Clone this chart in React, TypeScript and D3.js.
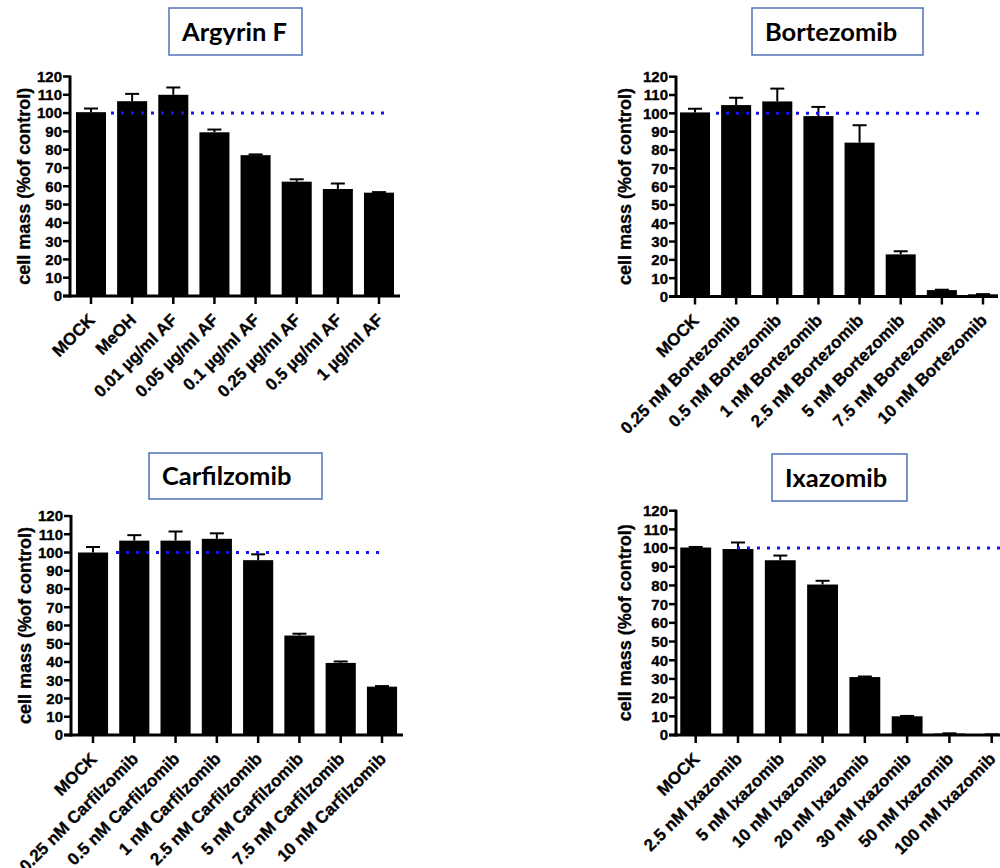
import React from "react";
import * as d3 from "d3";

// ---------- data ----------
const yTicks = [0, 10, 20, 30, 40, 50, 60, 70, 80, 90, 100, 110, 120];
const controlLevel = 100;

const argyrinCategories = ["MOCK", "MeOH", "0.01 µg/ml AF", "0.05 µg/ml AF", "0.1 µg/ml AF", "0.25 µg/ml AF", "0.5 µg/ml AF", "1 µg/ml AF"];
const argyrinValues = [100.5, 106.5, 110, 89.5, 77, 62.5, 58.5, 56.5];
const argyrinErrors = [2, 4, 4, 1.5, 0.4, 1.3, 3, 0.3];

const bortezomibCategories = ["MOCK", "0.25 nM Bortezomib", "0.5 nM Bortezomib", "1 nM Bortezomib", "2.5 nM Bortezomib", "5 nM Bortezomib", "7.5 nM Bortezomib", "10 nM Bortezomib"];
const bortezomibValues = [100.5, 104.5, 106.5, 98.5, 84, 23, 3.5, 1.2];
const bortezomibErrors = [2, 4, 7, 5, 9.5, 1.7, 0.2, 0.1];

const carfilzomibCategories = ["MOCK", "0.25 nM Carfilzomib", "0.5 nM Carfilzomib", "1 nM Carfilzomib", "2.5 nM Carfilzomib", "5 nM Carfilzomib", "7.5 nM Carfilzomib", "10 nM Carfilzomib"];
const carfilzomibValues = [100, 106.5, 106.5, 107.5, 95.8, 54.5, 39.5, 26.5];
const carfilzomibErrors = [3, 3, 5, 3, 3.2, 1, 0.8, 0.3];

const ixazomibCategories = ["MOCK", "2.5 nM Ixazomib", "5 nM Ixazomib", "10 nM Ixazomib", "20 nM Ixazomib", "30 nM Ixazomib", "50 nM Ixazomib", "100 nM Ixazomib"];
const ixazomibValues = [100.3, 99.5, 93.5, 80.5, 31, 10, 0.8, 0.3];
const ixazomibErrors = [0.3, 3.5, 2.5, 2, 0.3, 0.2, 0.1, 0.05];

const yAxisTitle = "cell mass (%of control)";

// ---------- layout ----------
const panels = [
  { title: "Argyrin F", cats: argyrinCategories, vals: argyrinValues, errs: argyrinErrors,
    axisX: 70, y0: 296, y120: 76.5, c0: 91, cN: 379, xEnd: 400, dots: [111, 390],
    box: { x: 169, y: 8, w: 133, h: 47 }, yLabelX: 30 },
  { title: "Bortezomib", cats: bortezomibCategories, vals: bortezomibValues, errs: bortezomibErrors,
    axisX: 676, y0: 296.5, y120: 76.7, c0: 695, cN: 983, xEnd: 998, dots: [716, 984],
    box: { x: 752, y: 8, w: 171, h: 47 }, yLabelX: 631 },
  { title: "Carfilzomib", cats: carfilzomibCategories, vals: carfilzomibValues, errs: carfilzomibErrors,
    axisX: 71, y0: 735, y120: 516, c0: 93, cN: 382, xEnd: 403, dots: [116, 386],
    box: { x: 149, y: 453, w: 173, h: 46 }, yLabelX: 31 },
  { title: "Ixazomib", cats: ixazomibCategories, vals: ixazomibValues, errs: ixazomibErrors,
    axisX: 676, y0: 735, y120: 510.7, c0: 695.7, cN: 991.7, xEnd: 1000, dots: [737, 1000],
    box: { x: 772, y: 454, w: 135, h: 47 }, yLabelX: 631 },
];

const AXIS_FONT = "'Liberation Sans', Arial, sans-serif";

function Panel({ p }: { p: any }) {
  const n = p.cats.length;
  const step = (p.cN - p.c0) / (n - 1);
  const x = d3.scaleBand<string>()
    .domain(p.cats)
    .range([p.c0 - step / 2, p.cN + step / 2])
    .paddingInner(0.27)
    .paddingOuter(0.135);
  const y = d3.scaleLinear().domain([0, 120]).range([p.y0, p.y120]);
  const bw = x.bandwidth();
  const yMid = (p.y0 + p.y120) / 2;

  return (
    <g>
      {/* title box */}
      <rect x={p.box.x} y={p.box.y} width={p.box.w} height={p.box.h} fill="#fff" stroke="#5273b8" strokeWidth={1.5} />
      <text x={p.box.x + 13} y={p.box.y + p.box.h / 2 + 9} fontFamily="Lato, 'Open Sans', sans-serif" fontWeight={700} fontSize={25.5} fill="#000">
        {p.title}
      </text>

      {/* bars */}
      {p.cats.map((c: string, i: number) => (
        <rect key={"b" + i} x={x(c)} y={y(p.vals[i])} width={bw} height={p.y0 - y(p.vals[i])} fill="#000" />
      ))}
      {/* error bars */}
      {p.cats.map((c: string, i: number) => {
        const cx = (x(c) as number) + bw / 2;
        const top = y(p.vals[i] + p.errs[i]);
        return (
          <g key={"e" + i} stroke="#000" strokeWidth={2}>
            <line x1={cx} x2={cx} y1={y(p.vals[i])} y2={top} />
            <line x1={cx - 7} x2={cx + 7} y1={top} y2={top} />
          </g>
        );
      })}

      {/* y axis */}
      <line x1={p.axisX} x2={p.axisX} y1={p.y0 + 1.5} y2={p.y120 - 1} stroke="#000" strokeWidth={3} />
      {yTicks.map((t) => (
        <g key={"yt" + t}>
          <line x1={p.axisX - 7} x2={p.axisX} y1={y(t)} y2={y(t)} stroke="#000" strokeWidth={2.5} />
          <text x={p.axisX - 8} y={y(t)} dy="0.36em" textAnchor="end" fontFamily={AXIS_FONT} fontWeight={700} fontSize={15} fill="#000" stroke="#000" strokeWidth={0.35}>
            {t}
          </text>
        </g>
      ))}
      <text transform={`translate(${p.yLabelX},${yMid}) rotate(-90)`} textAnchor="middle" fontFamily={AXIS_FONT} fontWeight={700} fontSize={18} fill="#000" stroke="#000" strokeWidth={0.3}>
        {yAxisTitle}
      </text>

      {/* x axis */}
      <line x1={p.axisX - 7} x2={p.xEnd} y1={p.y0} y2={p.y0} stroke="#000" strokeWidth={3} />
      {p.cats.map((c: string, i: number) => {
        const cx = (x(c) as number) + bw / 2;
        return (
          <g key={"xt" + i}>
            <line x1={cx} x2={cx} y1={p.y0} y2={p.y0 + 8} stroke="#000" strokeWidth={2.5} />
            <text transform={`translate(${cx + 5},${p.y0 + 25}) rotate(-45)`} textAnchor="end" fontFamily={AXIS_FONT} fontWeight={700} fontSize={17} fill="#000" stroke="#000" strokeWidth={0.3}>
              {c}
            </text>
          </g>
        );
      })}

      {/* control reference line */}
      <line x1={p.dots[0]} x2={p.dots[1]} y1={y(controlLevel)} y2={y(controlLevel)} stroke="#1414f0" strokeWidth={3} strokeDasharray="3 7" />
    </g>
  );
}

export default function App() {
  return (
    <svg width={1000} height={868} viewBox="0 0 1000 868" style={{ position: "absolute", left: 0, top: 0, background: "#fff" }}>
      <rect x={0} y={0} width={1000} height={868} fill="#fff" />
      {panels.map((p, i) => (
        <Panel key={i} p={p} />
      ))}
    </svg>
  );
}
